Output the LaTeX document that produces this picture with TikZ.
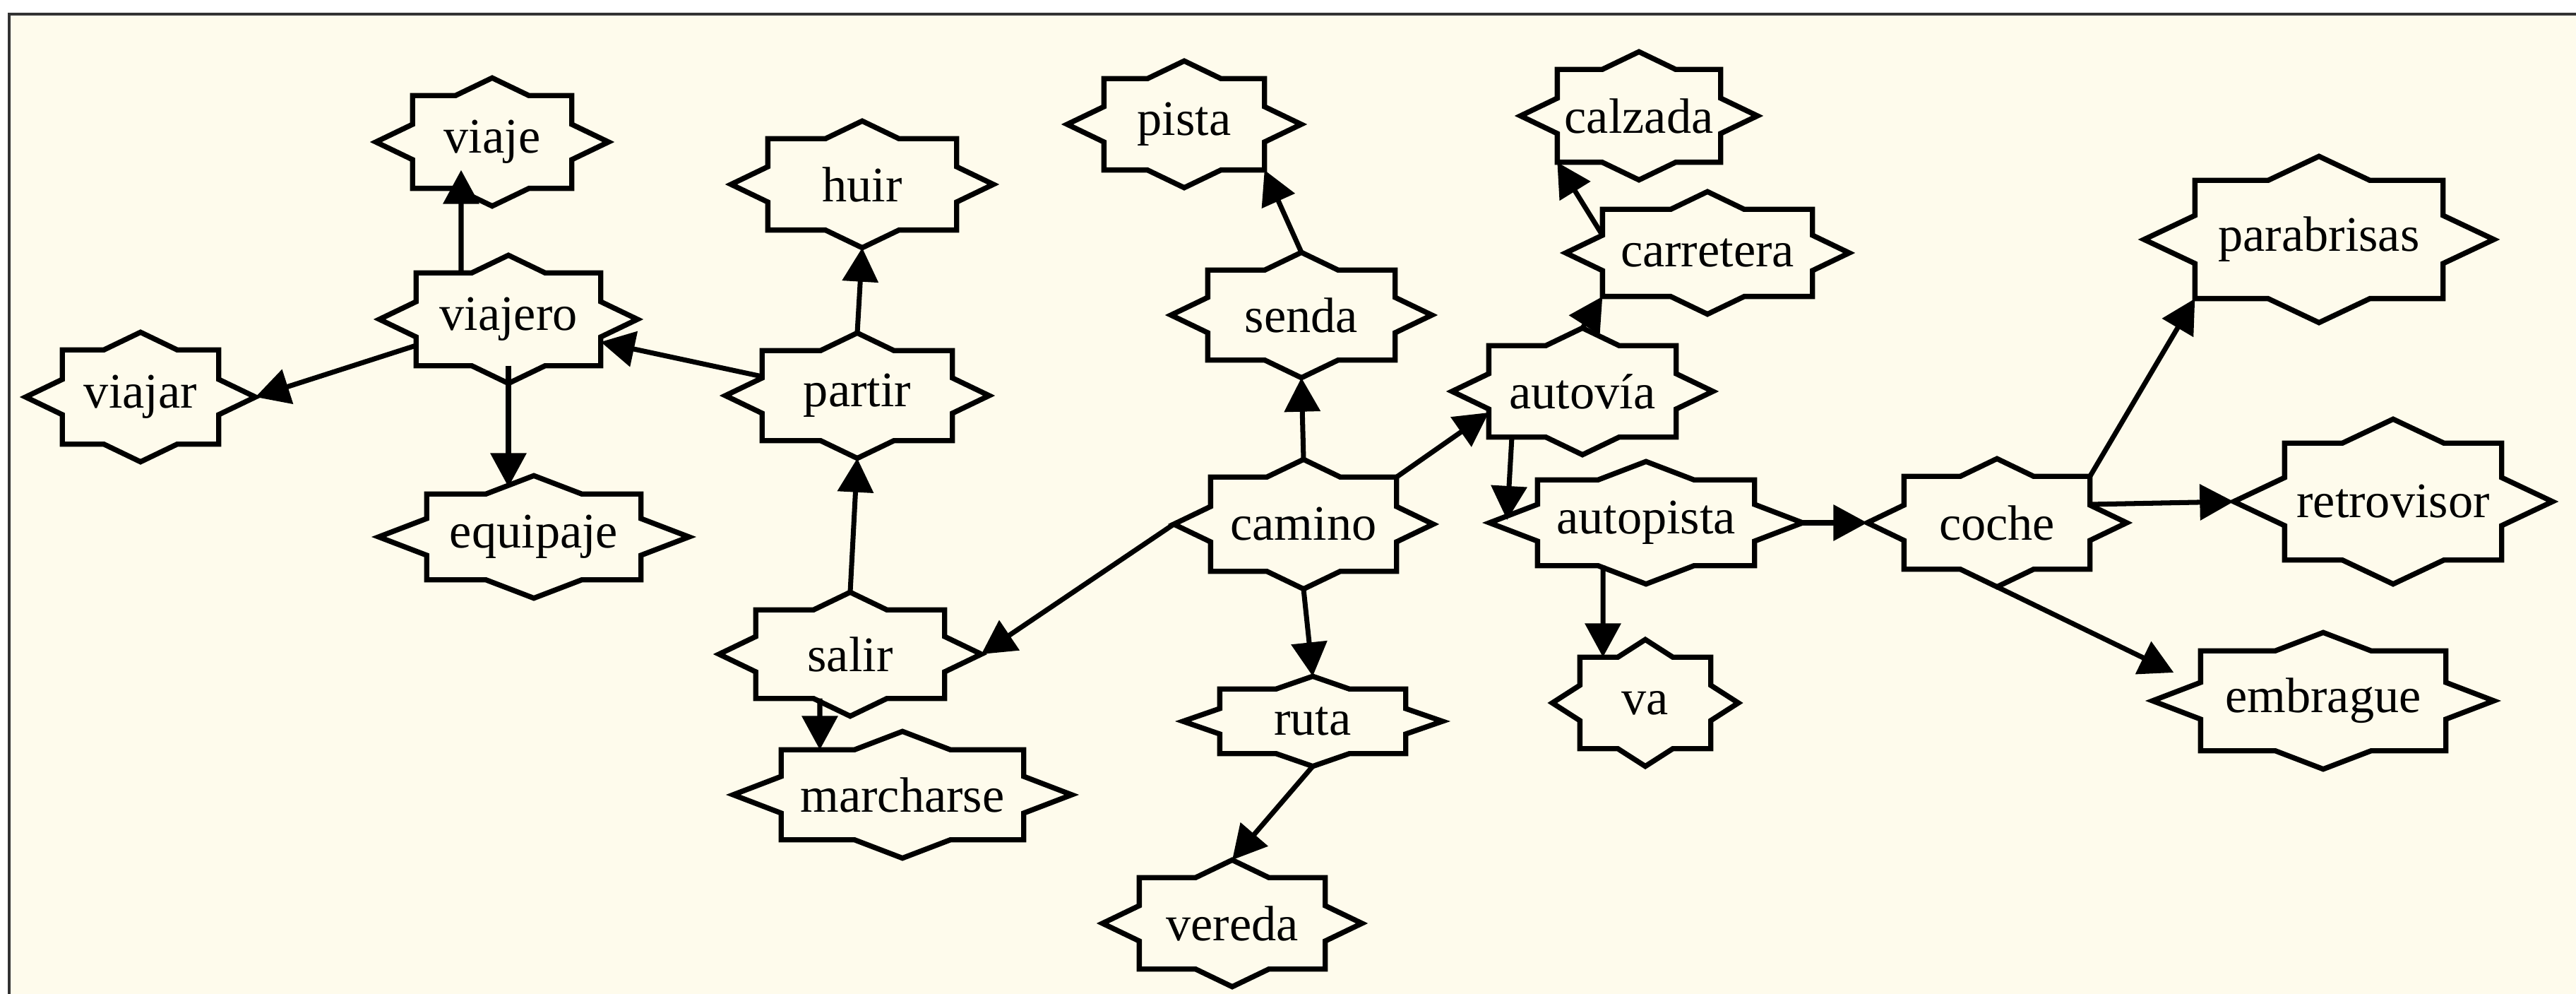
\documentclass[tikz,border=0pt]{standalone}
\usepackage{fontspec}
\setmainfont{Liberation Serif}
\usetikzlibrary{arrows.meta, calc}

\definecolor{paper}{RGB}{254,251,236}
\newcommand{\wordfont}{\fontsize{20}{24}\selectfont}

\tikzset{
  % outline = rectangle of the node + a flat diamond over it
  starbox/.style 2 args={append after command={\pgfextra{%
    \edef\starname{\tikzlastnode}%
    \draw[line width=2.1pt, line join=miter]
      ($(\starname.north)+(0,#2)$) coordinate (\starname-n)
      -- ($(\starname.north)+(#1,0)$) -- (\starname.north east)
      -- ($(\starname.east)+(0,#2)$)
      -- ($(\starname.east)+(#1,0)$) coordinate (\starname-e)
      -- ($(\starname.east)+(0,-#2)$) -- (\starname.south east)
      -- ($(\starname.south)+(#1,0)$)
      -- ($(\starname.south)+(0,-#2)$) coordinate (\starname-s)
      -- ($(\starname.south)+(-#1,0)$) -- (\starname.south west)
      -- ($(\starname.west)+(0,-#2)$)
      -- ($(\starname.west)+(-#1,0)$) coordinate (\starname-w)
      -- ($(\starname.west)+(0,#2)$) -- (\starname.north west)
      -- ($(\starname.north)+(-#1,0)$) -- cycle;}}},
  wordbase/.style={rectangle, inner sep=0pt, font=\wordfont},
  word/.style={wordbase, starbox={0.52cm}{0.25cm}},
  wideword/.style={wordbase, starbox={0.68cm}{0.26cm}},
  bigword/.style={wordbase, starbox={0.72cm}{0.34cm}},
  wh/.style 2 args={minimum width=#1cm, minimum height=#2cm},
  arr/.style={-{Triangle[length=4.8mm, width=5mm]}, line width=2pt}
}

\begin{document}
\begin{tikzpicture}
    \useasboundingbox (0,0) rectangle (36.48,-14.07);
    \fill[white] (0,0) rectangle (36.48,-14.07);
    \fill[paper] (0.127,-0.2) rectangle (36.48,-14.07);
    \draw[line width=1.1pt, black!80] (0.127,-14.07) -- (0.127,-0.2) -- (36.48,-0.2);

    % viajero side
    \node[word, wh={2.24}{1.30}] at (6.97,-2.01) (viaje) {viaje};
    \node[word, wh={2.60}{1.30}] at (7.20,-4.52) (viajero) {viajero};
    \node[word, wh={2.20}{1.32}] at (1.99,-5.62) (viajar) {viajar};
    \node[wideword, wh={3.02}{1.20}] at (7.56,-7.60) (equipaje) {equipaje};
    \node[word, wh={2.66}{1.28}] at (12.21,-2.61) (huir) {huir};
    \node[word, wh={2.68}{1.26}] at (12.14,-5.60) (partir) {partir};
    \node[word, wh={2.66}{1.24}] at (12.04,-9.26) (salir) {salir};
    \node[wideword, wh={3.42}{1.26}] at (12.78,-11.25) (marcharse) {marcharse};

    % camino side
    \node[word, wh={2.26}{1.28}] at (16.77,-1.76) (pista) {pista};
    \node[word, wh={2.64}{1.26}] at (18.43,-4.46) (senda) {senda};
    \node[word, wh={2.62}{1.32}] at (18.46,-7.42) (camino) {camino};
    \node[wordbase, starbox={0.52cm}{0.18cm}, wh={2.62}{0.90}] at (18.59,-10.21) (ruta) {ruta};
    \node[word, wh={2.62}{1.28}] at (17.45,-13.07) (vereda) {vereda};

    % carretera side
    \node[word, wh={2.30}{1.30}] at (23.21,-1.64) (calzada) {calzada};
    \node[word, wh={2.96}{1.22}] at (24.18,-3.58) (carretera) {carretera};
    \node[word, wh={2.64}{1.28}] at (22.41,-5.54) (autovia) {autovía};
    \node[wideword, wh={3.06}{1.20}] at (23.31,-7.40) (autopista) {autopista};
    \node[wordbase, starbox={0.39cm}{0.25cm}, wh={1.84}{1.28}] at (23.30,-9.95) (va) {va};

    % coche side
    \node[word, wh={2.62}{1.30}] at (28.28,-7.40) (coche) {coche};
    \node[bigword, wh={3.50}{1.66}] at (32.84,-3.39) (parabrisas) {parabrisas};
    \node[bigword, wh={3.06}{1.64}] at (33.89,-7.10) (retrovisor) {retrovisor};
    \node[wideword, wh={3.46}{1.40}] at (32.90,-9.92) (embrague) {embrague};

    \draw[arr] ([xshift=-6.7mm]viajero.north) -- ([xshift=-4.4mm,yshift=2.6mm]viaje.south);
    \draw[arr] ([yshift=-3.7mm]viajero.west) -- (viajar-e);
    \draw[arr] (viajero.south) -- ([xshift=-3.6mm,yshift=1mm]equipaje.north);
    \draw[arr] ([yshift=2.7mm]partir.west) -- ([yshift=-3.2mm]viajero.east);
    \draw[arr] (partir-n) -- (huir-s);
    \draw[arr] (salir-n) -- (partir-s);
    \draw[arr] ([xshift=-4.3mm]salir.south) -- ([xshift=-11.7mm]marcharse.north);

    \draw[arr] (camino-w) -- (salir-e);
    \draw[arr] (camino-s) -- (ruta-n);
    \draw[arr] (ruta-s) -- (vereda-n);
    \draw[arr] (camino-n) -- (senda-s);
    \draw[arr] (senda-n) -- (pista.south east);
    \draw[arr] (camino.north east) -- ([yshift=-3mm]autovia.west);

    \draw[arr] (autovia-n) -- (carretera.south west);
    \draw[arr] ([yshift=2.5mm]carretera.west) -- (calzada.south west);
    \draw[arr] ([xshift=-10mm]autovia.south) -- ([shift={(0.25,0.04)}]autopista-w);
    \draw[arr] ([xshift=-6.1mm]autopista.south) -- ([xshift=-6mm]va.north);
    \draw[arr] (autopista-e) -- (coche-w);

    \draw[arr] (coche.north east) -- (parabrisas.south west);
    \draw[arr] ([yshift=2.6mm]coche.east) -- (retrovisor-w);
    \draw[arr] (coche-s) -- ([shift={(0.3,0.4)}]embrague-w);
\end{tikzpicture}
\end{document}
